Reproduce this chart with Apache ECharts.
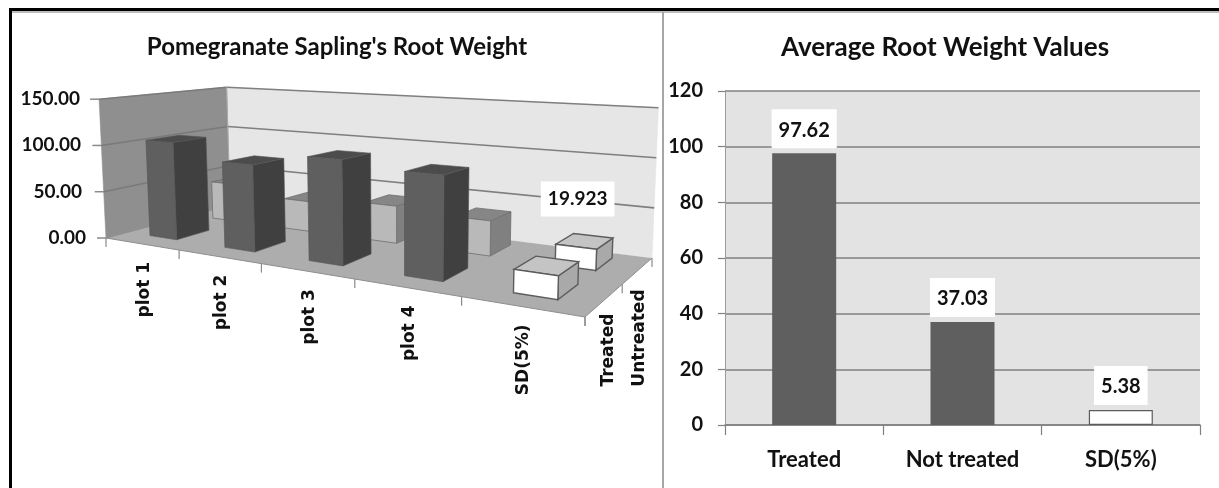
<!DOCTYPE html>
<html><head><meta charset="utf-8">
<style>html,body{margin:0;padding:0;background:#fff}#c{width:1219px;height:488px}</style>
<script src="https://cdn.jsdelivr.net/npm/echarts@6/dist/echarts.min.js"></script>
</head><body><div id="c"></div>
<script>
// ---- data ----
const plotCategories = ['plot 1','plot 2','plot 3','plot 4','SD(5%)'];
const depthCategories = ['Treated','Untreated'];
const treatedValues = [104, 88, 101, 95, 19.923];
const untreatedValues = [43, 33, 39, 35, 19.923];
const plotTicks = [0, 50, 100, 150];
const avgCategories = ['Treated','Not treated','SD(5%)'];
const avgValues = [97.62, 37.03, 5.38];
const title3d = "Pomegranate Sapling's Root Weight";
const titleAvg = 'Average Root Weight Values';

// ---- perspective of the 3D box (floor corners on the page) ----
const FL=[106,238],FR=[585,317],BR=[652,258],BL=[230,205];
const HEIGHT=139, VANISH=[400,6140];
const dx1=FR[0]-BR[0],dx2=BL[0]-BR[0],sx=FL[0]-FR[0]+BR[0]-BL[0];
const dy1=FR[1]-BR[1],dy2=BL[1]-BR[1],sy=FL[1]-FR[1]+BR[1]-BL[1];
const det=dx1*dy2-dx2*dy1;
const hg=(sx*dy2-dx2*sy)/det,hh=(dx1*sy-sx*dy1)/det;
function project(u,d,v){
  const w=hg*u+hh*d+1;
  const x=((FR[0]-FL[0]+hg*FR[0])*u+(BL[0]-FL[0]+hh*BL[0])*d+FL[0])/w;
  const y=((FR[1]-FL[1]+hg*FR[1])*u+(BL[1]-FL[1]+hh*BL[1])*d+FL[1])/w;
  const vx=x-VANISH[0],vy=y-VANISH[1],len=Math.hypot(vx,vy);
  const h=HEIGHT*v/w*(1-.026*u*d);
  return [x+vx/len*h,y+vy/len*h];
}
const poly=(pts,fill,stroke,lw)=>({type:'polygon',shape:{points:pts},style:{fill:fill,stroke:stroke||fill,lineWidth:lw||0.6}});
const seg=(a,b,col,lw)=>({type:'line',shape:{x1:a[0],y1:a[1],x2:b[0],y2:b[1]},style:{stroke:col,lineWidth:lw,fill:null}});
const FONT3D='"DejaVu Sans"';
const FONT='Lato';
const vFrac=(api,cs,val)=>(cs.y+cs.height-api.coord([0,val])[1])/cs.height;

function renderFrame(params,api){
  const cs=params.coordSys,ch=[];
  ch.push(poly([project(0,0,0),project(1,0,0),project(1,1,0),project(0,1,0)],'#adadad','#8e8e8e',1));
  ch.push(poly([project(0,1,0),project(1,1,0),project(1,1,1),project(0,1,1)],'#e6e6e6','#e6e6e6'));
  ch.push(poly([project(0,0,0),project(0,1,0),project(0,1,1),project(0,0,1)],'#8f8f8f','#8f8f8f'));
  plotTicks.forEach(t=>{
    const v=vFrac(api,cs,t),a=project(0,0,v),b=project(0,1,v),c=project(1,1,v);
    ch.push(seg([a[0]-9,a[1]],a,'#8a8a8a',1.5));
    if(t>0){ch.push(seg(a,b,'#7a7a7a',1.5));ch.push(seg(b,c,'#7f7f7f',1.6));}
  });
  ch.push(seg(project(0,1,0),project(0,1,1),'#aaaaaa',1));
  const n=plotCategories.length;
  for(let i=0;i<=n;i++){
    const p=project(i/n,0,0);
    ch.push(seg(p,[p[0],p[1]+9],'#8a8a8a',1.2));
  }
  depthCategories.forEach((c,i)=>{
    const p=project(1,i/2,0);
    ch.push(seg(p,[p[0],p[1]+9],'#8a8a8a',1.2));
    const q=project(1,(i+.5)/2,0);
    ch.push({type:'text',x:q[0]+(i?2:4),y:q[1]+(i?19:14),rotation:Math.PI/2,
      style:{text:c,align:'right',verticalAlign:'middle',font:'bold 17px '+FONT3D,fill:'#111'}});
  });
  ch.push(seg(project(1,1,0),[BR[0],BR[1]+9],'#8a8a8a',1.2));
  plotCategories.forEach((c,i)=>{
    const p=project((i+.5)/n,0,0);
    ch.push({type:'text',x:p[0]+3,y:p[1]+18,rotation:Math.PI/2,
      style:{text:c,align:'right',verticalAlign:'middle',font:'bold 17px '+FONT3D,fill:'#111'}});
  });
  return {type:'group',children:ch};
}
function makeBars(depthIndex,palette){
  return function(params,api){
    const cs=params.coordSys;
    const i=api.value(0),val=api.value(1);
    const pt=api.coord([i,val]),bw=api.size([1,0])[0]*0.37;
    const u0=(pt[0]-bw/2-cs.x)/cs.width,u1=(pt[0]+bw/2-cs.x)/cs.width;
    const v=(cs.y+cs.height-pt[1])/cs.height;
    const dc=(depthIndex+.5)/2+0.03,d0=dc-.125,d1=dc+.125;
    const s=i===plotCategories.length-1?palette.sd:palette.main;
    const ch=[
      poly([project(u1,d0,0),project(u1,d1,0),project(u1,d1,v),project(u1,d0,v)],s.side,s.edge,s.lw),
      poly([project(u0,d0,v),project(u1,d0,v),project(u1,d1,v),project(u0,d1,v)],s.top,s.edge,s.lw),
      poly([project(u0,d0,0),project(u1,d0,0),project(u1,d0,v),project(u0,d0,v)],s.front,s.edge,s.lw)
    ];
    if(palette.label===i){
      const p=project((u0+u1)/2,dc,v);
      ch.push({type:'text',x:p[0]-7,y:p[1]-42,style:{text:String(val),align:'center',verticalAlign:'middle',
        font:'bold 19px '+FONT,fill:'#111',backgroundColor:'#fff',padding:[8,7,8,7]}});
    }
    return {type:'group',children:ch};
  };
}
const sdStyle={front:'#ffffff',side:'#a9a9a9',top:'#c4c4c4',edge:'#5c5c5c',lw:1.4};
const treatedPal={main:{front:'#5f5f5f',side:'#404040',top:'#4c4c4c',edge:'#555555',lw:.6},sd:sdStyle};
const untreatedPal={main:{front:'#b9b9b9',side:'#808080',top:'#868686',edge:'#6e6e6e',lw:.8},sd:sdStyle,label:4};
const pairs=arr=>arr.map((v,i)=>[i,v]);
const tickOffset={0:0,50:4,100:5,150:6};

const chart=echarts.init(document.getElementById('c'),null,{renderer:'canvas'});
chart.setOption({
  animation:false,
  backgroundColor:'#ffffff',
  title:[
    {text:title3d,left:337,top:30,textAlign:'center',textStyle:{fontFamily:FONT,fontWeight:'bold',fontSize:24,color:'#111'},padding:[5,8,5,0]},
    {text:titleAvg,left:940,top:30,textAlign:'center',textStyle:{fontFamily:FONT,fontWeight:'bold',fontSize:26,color:'#111'}}
  ],
  grid:[
    {left:106,top:99,width:479,height:139,show:false},
    {left:725,top:91,width:475,height:334,show:true,backgroundColor:'#e3e3e3',borderWidth:0}
  ],
  xAxis:[
    {gridIndex:0,type:'category',data:plotCategories,show:false},
    {gridIndex:1,type:'category',data:avgCategories,
      axisLine:{lineStyle:{color:'#808080',width:1.5}},
      axisTick:{show:true,length:10,alignWithLabel:false,lineStyle:{color:'#808080',width:1.2}},
      axisLabel:{margin:24,fontFamily:FONT,fontWeight:'bold',fontSize:22,color:'#111'}}
  ],
  yAxis:[
    {gridIndex:0,type:'value',min:0,max:150,interval:50,
      axisLine:{show:false},axisTick:{show:false},splitLine:{show:false},
      axisLabel:{margin:20,formatter:v=>'{t'+v+'|'+v.toFixed(2)+'}',
        rich:Object.fromEntries(plotTicks.map(t=>['t'+t,{fontFamily:FONT,fontWeight:'bold',fontSize:19,color:'#111',padding:[0,tickOffset[t],0,0]}]))}},
    {gridIndex:1,type:'value',min:0,max:120,interval:20,
      axisLine:{show:true,lineStyle:{color:'#9a9a9a',width:1}},
      axisTick:{show:true,length:7,lineStyle:{color:'#808080',width:1.2}},
      splitLine:{lineStyle:{color:'#808080',width:1.5}},
      axisLabel:{margin:22,fontFamily:FONT,fontWeight:'bold',fontSize:20,color:'#111'}}
  ],
  series:[
    {type:'custom',name:'frame',xAxisIndex:0,yAxisIndex:0,data:[[0,0]],encode:{x:0,y:1},renderItem:renderFrame,silent:true,z:1},
    {type:'custom',name:depthCategories[1],xAxisIndex:0,yAxisIndex:0,data:pairs(untreatedValues),encode:{x:0,y:1},renderItem:makeBars(1,untreatedPal),z:2},
    {type:'custom',name:depthCategories[0],xAxisIndex:0,yAxisIndex:0,data:pairs(treatedValues),encode:{x:0,y:1},renderItem:makeBars(0,treatedPal),z:3},
    {type:'bar',xAxisIndex:1,yAxisIndex:1,barWidth:64,z:3,
      data:avgValues.map((v,i)=>({value:v,itemStyle:i===avgValues.length-1?{color:'#ffffff',borderColor:'#5c5c5c',borderWidth:1.2}:{color:'#5f5f5f'}})),
      label:{show:true,position:'top',distance:5,fontFamily:FONT,fontWeight:'bold',fontSize:20,color:'#111',
        backgroundColor:'#ffffff',padding:[11,7,8,7]}}
  ],
  graphic:[
    {type:'rect',shape:{x:9,y:8,width:1210,height:3},style:{fill:'#000'},z:50},
    {type:'rect',shape:{x:9,y:11,width:1210,height:2},style:{fill:'#bdbdbd'},z:50},
    {type:'rect',shape:{x:9,y:8,width:3,height:480},style:{fill:'#000'},z:50},
    {type:'rect',shape:{x:662,y:12,width:2,height:476},style:{fill:'#a6a6a6'},z:50}
  ]
});
</script></body></html>
